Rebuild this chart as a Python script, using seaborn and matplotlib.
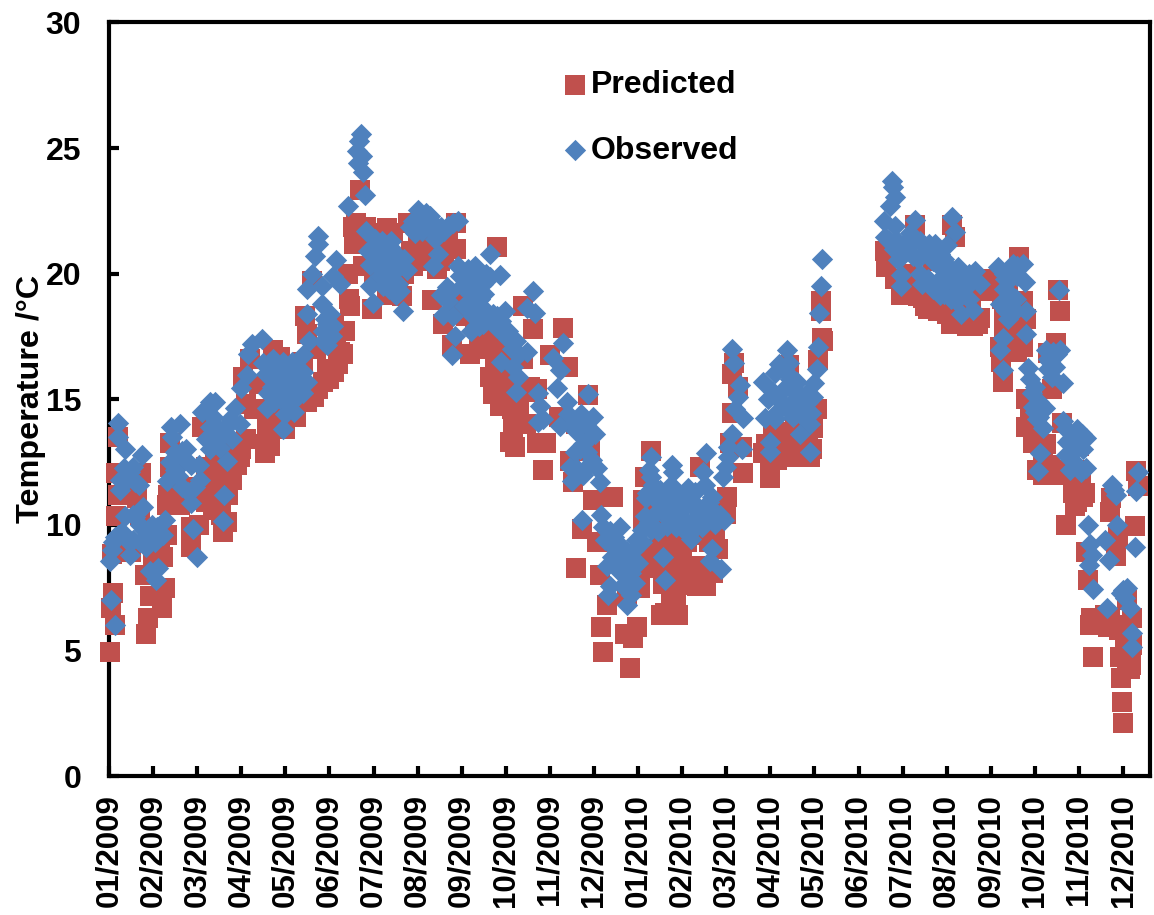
import matplotlib
matplotlib.use("Agg")
import matplotlib.pyplot as plt
import pandas as pd
import seaborn as sns

# each pair is (months since 01/2009, temperature in C)
pred_early_2009 = [
    (.02, 4.94), (.1, 7.3), (.04, 6.7), (.14, 6.0), (.84, 5.65), (.88, 6.3), (.93, 7.15), (1.2, 6.7),
    (1.27, 7.5), (1.23, 8.7), (.82, 8.0), (.06, 8.85), (.17, 10.35), (.21, 11.2), (.17, 12.05), (.21, 13.5),
    (.63, 11.05), (.72, 12.05), (1.31, 9.6), (1.31, 10.8), (1.33, 11.2), (1.38, 12.3), (1.38, 13.25),
    (1.87, 9.1), (1.87, 9.9), (2.03, 10.0), (1.61, 10.8), (2.1, 13.9), (2.59, 9.7), (2.67, 10.1),
    (2.37, 10.6), (2.52, 11.3), (2.56, 11.9), (2.97, 12.7), (2.86, 13.05), (.3, 9.0), (.5, 8.9),
    (.7, 10.4), (1.0, 8.8), (1.15, 9.2), (1.5, 12.0), (1.7, 11.5), (1.9, 11.0), (2.2, 12.3), (2.4, 12.5),
    (2.2, 10.9), (2.3, 11.5), (2.45, 10.9), (2.55, 10.4), (2.7, 11.2), (2.8, 11.8), (2.9, 12.4), (3.0, 13.0),
    (3.1, 13.4),
]
pred_spring_2009 = [
    (3.54, 12.85), (3.65, 13.15), (3.58, 13.8), (3.5, 14.6), (3.05, 15.9), (3.2, 16.6), (3.73, 16.95),
    (3.88, 16.7), (4.56, 15.25), (4.86, 15.7), (4.94, 16.2), (5.31, 16.8), (5.35, 17.7), (5.25, 16.9),
    (4.48, 17.6), (4.44, 18.3), (5.46, 18.7), (4.6, 19.7), (5.96, 18.6), (5.43, 20.0), (5.77, 20.3),
    (5.54, 21.85), (5.69, 23.35), (5.6, 22.0), (5.84, 21.85), (6.45, 21.6), (6.22, 21.0), (3.1, 14.8),
    (3.3, 14.6), (3.9, 15.2), (4.1, 15.0), (4.3, 15.3), (4.7, 17.0), (5.0, 17.2), (5.1, 18.0), (6.0, 20.0),
    (4.0, 13.8), (4.2, 16.0), (3.4, 15.6), (6.7, 20.0), (6.9, 20.3), (7.1, 20.5),
    (3.55, 13.2), (3.7, 13.8), (3.8, 14.3), (3.95, 14.2), (4.05, 14.5), (4.25, 14.3), (4.4, 15.0), (4.5, 14.9),
    (4.65, 15.1), (4.75, 15.4), (5.0, 15.8), (5.1, 16.1), (5.2, 16.4), (5.15, 17.2), (4.4, 16.5), (5.45, 19.0),
    (5.55, 21.2), (5.65, 21.5), (5.75, 21.7), (5.9, 21.4), (6.05, 21.6), (6.15, 21.3), (6.3, 21.8), (6.5, 20.5),
    (6.55, 19.7), (6.85, 20.9), (7.0, 21.5), (7.15, 21.2), (7.3, 21.7),
]
pred_autumn_2009 = [
    (6.79, 22.0), (7.88, 22.0), (7.88, 21.0), (8.81, 21.05), (6.3, 19.15), (6.64, 19.1), (7.32, 18.95),
    (7.58, 18.0), (7.77, 17.15), (8.19, 16.8), (8.64, 15.9), (8.7, 15.2), (8.87, 14.75), (9.17, 13.9),
    (9.21, 13.1), (9.47, 15.3), (9.39, 18.7), (9.62, 17.8), (10.3, 17.85), (10.0, 16.75), (10.42, 16.3),
    (10.87, 15.15), (9.7, 15.4), (9.7, 13.25), (9.92, 13.25), (9.85, 12.2), (10.45, 12.55), (10.91, 12.95),
    (10.53, 11.7), (10.98, 11.0), (11.44, 11.1), (10.72, 9.85), (11.06, 9.3), (10.6, 8.3), (11.13, 8.0),
    (11.3, 6.8), (11.17, 5.95), (11.2, 4.95), (11.75, 7.2), (11.7, 5.65), (11.89, 5.5), (11.81, 4.3),
    (11.97, 5.95), (7.3, 21.0), (7.5, 20.5), (8.0, 19.2), (8.3, 18.0), (8.5, 17.2), (9.0, 16.8), (9.3, 15.0),
    (10.2, 14.3), (10.6, 14.0), (11.3, 9.5), (11.6, 8.8), (11.9, 8.0),
    (7.45, 20.2), (7.6, 20.8), (7.7, 21.3), (7.85, 18.7), (8.1, 18.3), (8.4, 17.0), (8.55, 17.8), (8.75, 16.6),
    (8.8, 17.4), (8.95, 15.9), (9.05, 15.4), (9.15, 14.6), (9.3, 14.3), (9.45, 14.0), (9.1, 13.3), (9.4, 16.6),
    (9.55, 15.5),
]
pred_early_2010 = [
    (12.3, 12.95), (12.15, 11.9), (12.12, 11.0), (12.12, 10.2), (12.53, 6.4), (12.9, 6.4), (12.56, 7.65),
    (12.85, 7.2), (12.75, 8.35), (12.2, 9.05), (12.04, 7.5), (12.4, 10.0), (12.7, 9.5), (13.0, 8.8),
    (13.33, 7.55), (13.55, 7.55), (13.29, 8.35), (13.4, 12.3), (13.82, 9.05), (14.0, 10.45), (14.01, 11.1),
    (14.39, 12.05), (14.35, 13.1), (14.08, 13.25), (14.12, 14.45), (14.27, 15.5), (14.14, 16.0), (14.17, 16.45),
    (13.6, 9.3), (13.1, 9.8), (12.95, 8.2), (15.0, 11.85), (15.0, 12.2), (14.84, 12.85), (15.14, 12.6),
    (15.37, 12.85), (15.6, 12.7), (15.2, 13.4), (15.67, 13.1), (15.05, 13.9), (15.43, 16.35), (15.9, 12.7),
    (15.97, 13.85), (16.05, 14.6), (16.07, 16.55), (16.17, 17.45), (16.2, 17.3), (16.16, 18.9), (16.16, 18.5),
    (12.6, 6.5), (12.75, 7.3), (12.9, 7.6), (13.0, 8.6), (13.2, 8.3), (13.45, 8.3), (13.7, 8.1), (13.1, 9.3),
    (13.4, 9.6), (13.75, 9.7), (12.3, 8.3), (12.5, 9.1), (12.65, 8.8), (12.45, 10.8), (14.9, 13.2), (15.1, 13.1),
    (15.3, 13.0), (15.45, 13.7), (15.55, 14.0), (15.8, 12.9), (15.85, 13.5), (15.95, 13.0),
]
pred_late_2010 = [
    (17.6, 20.9), (17.63, 20.25), (17.82, 19.8), (17.97, 19.15), (18.28, 21.95), (19.11, 21.95), (19.19, 21.45),
    (18.58, 18.6), (18.46, 19.05), (18.84, 19.0), (19.22, 18.35), (19.37, 18.2), (19.6, 17.9), (19.75, 18.25),
    (19.67, 19.8), (20.65, 20.65), (20.73, 18.9), (20.2, 17.1), (20.24, 16.5), (20.27, 15.7), (20.73, 17.1),
    (21.53, 19.35), (21.56, 18.5), (21.49, 17.25), (21.3, 16.85), (21.38, 15.4), (20.79, 15.0), (20.88, 14.5),
    (20.81, 13.9), (20.96, 13.25), (21.19, 12.9), (21.04, 12.2), (21.19, 12.0), (21.61, 14.05), (21.62, 12.0),
    (22.0, 13.15), (22.13, 11.25), (21.87, 11.25), (21.9, 10.75), (21.71, 10.0), (23.26, 9.95), (23.3, 12.15),
    (23.34, 11.55), (22.7, 10.5), (22.73, 11.05), (22.89, 9.5), (22.85, 8.75), (22.17, 8.9), (22.2, 7.8),
    (22.28, 6.3), (22.25, 6.0), (22.58, 6.4), (22.66, 5.95), (23.08, 5.95), (22.32, 4.75), (22.92, 4.75),
    (23.15, 4.25), (23.18, 4.4), (22.95, 3.9), (22.98, 2.95), (23.0, 2.1), (18.1, 20.0), (18.7, 20.5),
    (19.4, 19.2), (20.4, 19.5), (20.5, 17.9), (17.9, 20.9), (23.1, 7.0),
    (18.0, 19.5), (18.2, 19.9), (18.35, 19.1), (18.5, 18.7), (18.7, 18.8), (18.8, 18.5), (19.0, 18.4), (19.1, 18.0),
    (19.3, 18.6), (19.45, 17.9), (19.55, 18.5), (19.7, 18.0), (19.8, 19.3), (20.1, 19.8), (20.25, 19.0), (20.3, 18.5),
    (20.45, 17.5), (20.6, 16.9), (20.7, 17.6), (20.8, 18.2), (20.3, 17.7), (21.0, 13.8), (21.25, 13.2), (21.35, 12.4),
    (21.7, 12.2), (21.85, 12.1), (22.0, 12.2), (22.05, 11.8), (22.1, 11.1), (21.95, 10.9), (22.9, 5.8), (22.7, 6.3),
    (22.75, 6.0), (23.05, 5.4), (23.1, 4.7), (23.2, 6.3), (23.2, 5.2),
]
obs_early_2009 = [
    (.2, 14.06), (.21, 13.5), (.36, 13.0), (.74, 12.8), (.33, 12.25), (.48, 12.1), (.26, 11.8), (.67, 11.6),
    (.26, 11.4), (.78, 10.7), (.36, 10.35), (.55, 10.4), (.97, 10.0), (1.27, 10.2), (1.23, 9.6), (.14, 9.5),
    (.55, 9.4), (.85, 9.1), (1.04, 9.3), (.06, 9.0), (.02, 8.55), (.48, 8.8), (1.12, 8.3), (.93, 8.15),
    (1.07, 7.8), (.04, 7.0), (.14, 6.0), (1.41, 13.9), (1.61, 14.0), (1.42, 13.5), (1.65, 12.95), (1.38, 12.5),
    (1.72, 12.6), (2.03, 12.4), (1.57, 11.95), (1.31, 11.75), (2.06, 11.8), (1.8, 11.3), (1.87, 10.85),
    (1.91, 9.85), (2.0, 8.7), (2.6, 11.2), (2.59, 10.15), (2.1, 14.5), (2.29, 14.9), (2.4, 14.9), (2.37, 14.3),
    (2.2, 13.4), (2.4, 13.6), (2.78, 13.4), (2.52, 13.05), (2.67, 12.55), (2.97, 14.0), (2.86, 14.65),
    (1.5, 12.9), (1.75, 13.0), (1.85, 12.4), (1.5, 12.2), (1.65, 11.5), (1.95, 11.5), (2.3, 13.9), (2.45, 13.9),
    (2.55, 13.7), (2.65, 13.9), (2.3, 13.0), (2.55, 13.5), (2.75, 14.2), (.1, 9.3), (.2, 9.6), (.3, 9.7), (.4, 9.4),
    (.7, 10.0), (.8, 9.8), (.9, 9.5), (1.0, 9.7), (1.1, 9.9), (1.15, 9.6), (.7, 9.3), (.6, 10.3), (.4, 11.8),
    (.55, 12.3), (.6, 11.7),
]
obs_spring_2009 = [
    (3.0, 15.45), (3.12, 15.95), (3.16, 16.8), (3.24, 17.2), (3.48, 17.4), (3.5, 16.45), (3.73, 16.6),
    (4.14, 16.5), (4.41, 16.75), (3.8, 16.0), (4.33, 15.95), (4.03, 15.6), (3.61, 15.25), (4.41, 15.25),
    (3.88, 15.0), (3.58, 14.65), (4.22, 15.0), (3.99, 14.4), (3.94, 13.8), (4.48, 18.4), (4.54, 17.3),
    (4.86, 17.7), (5.09, 17.9), (4.94, 17.15), (4.82, 18.8), (5.01, 18.4), (4.48, 19.4), (4.82, 19.5),
    (4.6, 20.0), (4.67, 20.7), (4.75, 21.2), (4.75, 21.5), (5.16, 20.55), (5.09, 19.9), (5.24, 19.6),
    (5.43, 22.7), (5.8, 23.15), (5.77, 24.05), (5.65, 24.4), (5.73, 24.7), (5.62, 24.9), (5.68, 25.3),
    (5.71, 25.55), (5.84, 21.7), (6.03, 21.4), (5.88, 20.9), (5.92, 20.35), (5.92, 19.5), (5.98, 18.85),
    (6.37, 21.05), (6.22, 20.85), (6.52, 20.15), (6.22, 19.5), (6.52, 19.15),
    (3.55, 16.0), (3.65, 16.5), (3.7, 15.5), (3.8, 15.3), (3.9, 15.9), (3.95, 16.5), (4.05, 16.1), (4.1, 15.3),
    (4.15, 15.9), (4.25, 16.3), (4.3, 15.5), (4.4, 16.1), (4.5, 15.7), (3.75, 14.9), (4.05, 14.8), (4.2, 14.5),
    (4.95, 18.0), (5.05, 17.5), (4.9, 18.2), (4.85, 17.3), (6.0, 20.8), (6.1, 21.0), (6.2, 21.3), (6.1, 20.3),
    (6.3, 20.3), (6.4, 20.5), (6.45, 19.8), (6.15, 19.9), (6.3, 20.9), (5.95, 21.0), (6.5, 20.8), (6.6, 20.6),
    (6.7, 20.6), (6.4, 21.3), (6.55, 19.6), (6.35, 19.4),
]
obs_autumn_2009 = [
    (6.15, 20.4), (6.75, 20.15), (6.3, 19.6), (6.6, 19.3), (6.66, 18.5), (7.0, 22.55), (7.28, 22.3), (6.83, 21.85),
    (7.09, 21.7), (7.54, 21.85), (7.92, 22.1), (7.47, 20.8), (7.35, 20.3), (8.64, 20.8), (7.92, 20.3), (8.3, 20.3),
    (8.87, 19.95), (7.66, 19.45), (8.11, 19.6), (8.64, 19.85), (7.54, 19.15), (8.41, 19.0), (8.49, 19.6),
    (7.58, 18.35), (7.81, 18.3), (8.41, 18.6), (8.98, 18.5), (7.85, 17.5), (8.22, 17.7), (8.49, 18.0), (8.79, 17.85),
    (9.06, 17.7), (7.79, 16.75), (9.62, 19.3), (9.47, 18.65), (9.66, 18.45), (9.24, 17.3), (9.47, 16.9), (8.9, 16.5),
    (9.16, 16.3), (9.28, 15.9), (9.24, 15.3), (10.3, 17.25), (10.08, 16.65), (10.23, 16.15), (10.15, 15.45),
    (9.74, 15.25), (10.38, 14.9), (10.87, 15.2), (9.77, 14.75), (10.98, 14.3), (9.85, 14.2), (10.23, 13.95),
    (9.74, 14.1), (10.6, 13.75), (11.02, 13.6), (10.68, 13.0), (10.57, 12.9), (10.95, 12.6), (10.6, 12.25),
    (11.06, 12.25), (10.5, 11.75), (11.14, 11.7), (10.72, 10.2), (11.17, 10.4), (11.59, 9.9), (11.36, 9.75),
    (11.25, 9.4), (11.59, 9.2), (12.08, 9.3), (12.0, 8.5), (11.3, 8.35), (11.7, 8.05), (11.36, 7.55), (11.93, 7.7),
    (11.32, 7.2), (11.85, 7.2), (11.74, 6.8),
    (6.9, 22.1), (7.05, 22.2), (7.15, 21.9), (7.25, 21.8), (7.35, 22.0), (7.45, 21.6), (7.6, 21.7), (7.7, 21.9),
    (7.8, 22.0), (6.95, 21.6), (7.2, 22.4), (7.4, 21.4), (7.95, 19.9), (8.0, 19.5), (8.15, 20.2), (8.2, 19.2),
    (8.25, 19.8), (8.35, 19.7), (8.4, 19.3), (8.5, 19.2), (8.55, 20.0), (8.35, 18.9), (8.25, 18.3), (8.5, 18.6),
    (8.6, 18.2), (8.7, 18.4), (8.8, 18.3), (8.9, 18.1), (8.4, 17.9), (8.95, 17.6), (9.05, 17.4), (9.15, 17.0),
    (9.3, 16.8), (8.05, 18.7), (7.7, 18.9), (7.75, 19.3), (10.4, 14.4), (10.5, 14.0), (10.7, 14.4), (10.8, 14.0),
    (10.9, 13.5), (10.75, 13.2), (10.85, 12.9), (10.45, 12.3), (10.75, 12.0), (10.85, 12.3), (11.35, 9.3),
    (11.45, 9.5), (11.5, 9.0), (11.6, 8.7), (11.75, 8.9), (11.8, 8.5), (11.4, 8.7), (11.55, 8.2), (11.85, 8.1),
    (11.9, 9.0), (11.95, 9.4), (11.2, 9.9), (11.65, 7.6), (11.75, 7.4),
]
obs_early_2010 = [
    (12.3, 12.7), (12.76, 12.4), (12.3, 11.9), (12.19, 11.05), (12.8, 12.1), (12.42, 10.5), (12.15, 10.35),
    (12.57, 8.7), (12.61, 7.8), (13.55, 12.85), (13.48, 12.1), (12.2, 11.25), (12.46, 11.25), (12.91, 11.1),
    (13.14, 11.45), (13.51, 11.6), (13.67, 11.1), (12.53, 10.6), (13.86, 10.4), (12.95, 10.35), (13.29, 10.25),
    (13.74, 10.05), (12.65, 9.95), (12.46, 9.75), (13.21, 9.45), (13.67, 9.05), (13.63, 8.55), (13.89, 8.25),
    (13.93, 11.9), (14.0, 12.3), (14.04, 12.7), (14.04, 13.1), (14.12, 13.6), (14.35, 13.0), (14.39, 14.25),
    (14.2, 14.6), (14.27, 15.1), (14.31, 15.55), (14.17, 16.45), (14.14, 17.0), (15.0, 13.3), (15.0, 12.9),
    (14.88, 14.25), (14.84, 15.7), (15.1, 16.05), (15.2, 16.4), (15.38, 16.95), (15.43, 16.45), (15.18, 15.0),
    (15.14, 14.5), (15.48, 15.45), (15.52, 14.3), (15.71, 15.1), (15.67, 13.6), (15.9, 12.9), (15.93, 14.45),
    (15.97, 15.1), (16.0, 15.65), (16.05, 16.2), (16.07, 17.1), (16.1, 18.45), (16.14, 19.5), (16.18, 20.6),
    (12.25, 12.2), (12.35, 11.6), (12.4, 11.0), (12.5, 11.4), (12.55, 11.0), (12.65, 10.6), (12.7, 11.2),
    (12.75, 11.6), (12.85, 10.8), (12.95, 10.9), (13.05, 10.7), (13.1, 11.0), (13.2, 10.8), (13.3, 11.3),
    (13.35, 10.7), (13.45, 10.5), (13.55, 10.3), (13.6, 10.9), (13.7, 10.6), (13.8, 10.3), (12.85, 9.9),
    (13.05, 9.8), (13.15, 10.0), (13.25, 9.8), (13.45, 9.9), (13.0, 10.3), (12.7, 10.2), (12.3, 9.8), (12.25, 10.1),
    (12.1, 9.8), (13.95, 10.2), (14.95, 15.0), (15.05, 15.3), (15.1, 14.2), (15.25, 14.9), (15.3, 15.4),
    (15.35, 14.7), (15.55, 15.0), (15.6, 15.7), (15.65, 14.6), (15.75, 14.3), (15.8, 15.2), (15.85, 14.9),
    (15.9, 14.0), (15.4, 16.0), (15.45, 15.8), (15.3, 16.2),
]
obs_late_2010 = [
    (17.75, 23.7), (17.78, 23.45), (17.82, 23.05), (17.71, 22.7), (17.57, 22.1), (17.82, 21.9), (18.28, 22.15),
    (17.6, 21.45), (17.86, 21.35), (18.16, 21.6), (19.12, 22.25), (19.18, 21.65), (19.0, 21.15), (18.39, 21.3),
    (18.73, 21.2), (18.58, 20.85), (18.24, 20.7), (17.9, 20.55), (18.77, 20.4), (17.97, 19.95), (17.97, 19.5),
    (18.39, 20.0), (18.58, 19.8), (18.84, 19.8), (18.99, 20.2), (19.26, 20.25), (18.84, 19.15), (19.15, 19.15),
    (19.64, 20.1), (19.75, 19.6), (19.45, 19.5), (19.6, 18.55), (19.33, 18.4), (20.17, 20.25), (20.73, 20.4),
    (20.46, 20.1), (20.32, 19.8), (20.77, 19.65), (20.43, 19.2), (20.2, 18.8), (20.58, 19.0), (20.79, 18.5),
    (20.39, 18.2), (20.81, 17.6), (20.28, 17.45), (20.22, 16.95), (20.27, 16.15), (21.54, 19.35), (21.26, 16.95),
    (21.57, 16.95), (21.34, 16.5), (21.38, 15.9), (21.64, 15.65), (20.84, 16.25), (20.88, 15.8), (20.94, 15.25),
    (20.96, 14.7), (21.22, 14.65), (21.04, 14.2), (21.19, 13.85), (21.11, 12.85), (21.07, 12.15), (21.64, 14.15),
    (22.06, 13.6), (22.17, 13.45), (21.72, 13.3), (21.87, 12.9), (21.79, 12.2), (22.17, 12.25), (22.75, 11.6),
    (22.85, 11.2), (23.3, 11.35), (23.34, 12.1), (22.2, 10.0), (22.87, 10.0), (22.58, 9.4), (22.26, 9.25),
    (23.27, 9.1), (22.3, 8.8), (22.23, 8.4), (22.69, 8.6), (22.32, 7.45), (22.64, 6.7), (23.0, 7.4), (23.04, 7.1),
    (23.15, 6.7), (23.2, 5.7), (23.2, 5.15),
    (17.7, 21.3), (17.8, 21.0), (18.0, 21.0), (18.1, 21.3), (18.25, 21.3), (18.35, 20.6), (18.45, 20.8), (18.5, 21.1),
    (18.6, 21.2), (18.7, 20.5), (18.85, 20.8), (18.95, 20.6), (19.05, 19.8), (19.1, 20.2), (18.45, 19.6), (18.7, 19.4),
    (18.9, 19.5), (18.95, 19.2), (19.2, 19.8), (19.3, 19.7), (19.4, 19.9), (19.5, 20.0), (19.55, 19.7), (19.3, 19.2),
    (19.4, 19.4), (19.2, 18.9), (19.1, 19.0), (19.5, 19.0), (20.3, 20.0), (20.5, 20.4), (20.6, 19.9), (20.6, 20.3),
    (20.4, 19.7), (20.3, 19.4), (20.35, 18.9), (20.55, 18.5), (20.35, 18.5), (20.45, 18.6), (21.3, 16.6), (21.4, 16.9),
    (21.45, 16.3), (21.5, 16.8), (21.3, 16.2), (21.0, 15.5), (21.1, 14.9), (21.0, 14.5), (21.1, 14.3), (21.7, 13.8),
    (21.8, 13.4), (21.9, 13.4), (21.95, 13.8), (22.0, 13.2), (22.1, 13.0), (21.85, 12.6), (21.95, 12.4), (22.05, 12.1),
    (21.7, 12.8), (22.95, 7.3), (23.1, 7.5), (22.8, 11.4),
]
month_labels = [f"{m:02d}/{y}" for y in (2009, 2010) for m in range(1, 13)]
temp_ticks = [0, 5, 10, 15, 20, 25, 30]

predicted = pd.DataFrame(pred_early_2009 + pred_spring_2009 + pred_autumn_2009 + pred_early_2010 + pred_late_2010,
                         columns=["month", "temp"])
observed = pd.DataFrame(obs_early_2009 + obs_spring_2009 + obs_autumn_2009 + obs_early_2010 + obs_late_2010,
                        columns=["month", "temp"])

sns.set_theme(style="ticks")
plt.rcParams["font.family"] = ["Liberation Sans", "DejaVu Sans"]
plt.rcParams["font.weight"] = "bold"

fig = plt.figure(figsize=(11.54, 9.15), dpi=100)
ax = fig.add_axes([109 / 1154, 1 - 776 / 915, (1149.5 - 109) / 1154, (776 - 22.5) / 915])

sns.scatterplot(data=predicted, x="month", y="temp", ax=ax, marker="s", s=212, color="#C0504D",
                linewidth=0, clip_on=False, zorder=5, label="Predicted")
sns.scatterplot(data=observed, x="month", y="temp", ax=ax, marker="D", s=118, color="#4F81BD",
                linewidth=0, clip_on=False, zorder=6, label="Observed")

ax.set_xlim(0, 23.6)
ax.set_ylim(0, 30)
ax.set_xticks(range(len(month_labels)))
ax.set_xticklabels(month_labels, rotation=90, fontsize=22.5, fontweight="bold", color="black")
ax.set_yticks(temp_ticks)
ax.set_yticklabels(temp_ticks, fontsize=23, fontweight="bold", color="black")
ax.tick_params(axis="both", direction="in", length=7.5, width=3, color="black")
ax.tick_params(axis="x", pad=13)
ax.tick_params(axis="y", pad=20)
ax.set_xlabel("")
ax.set_ylabel("Temperature /°C", fontsize=23.3, fontweight="bold", color="black", labelpad=0)

for side in ax.spines:
    ax.spines[side].set_linewidth(3)
    ax.spines[side].set_color("black")

ax.legend(loc="upper left", bbox_to_anchor=(0.4327, 0.937), frameon=False, fontsize=23, labelspacing=1.12,
          handlelength=1.0, handletextpad=0.0, borderpad=0, borderaxespad=0, labelcolor="black")

fig.savefig("out.png", dpi=100)
